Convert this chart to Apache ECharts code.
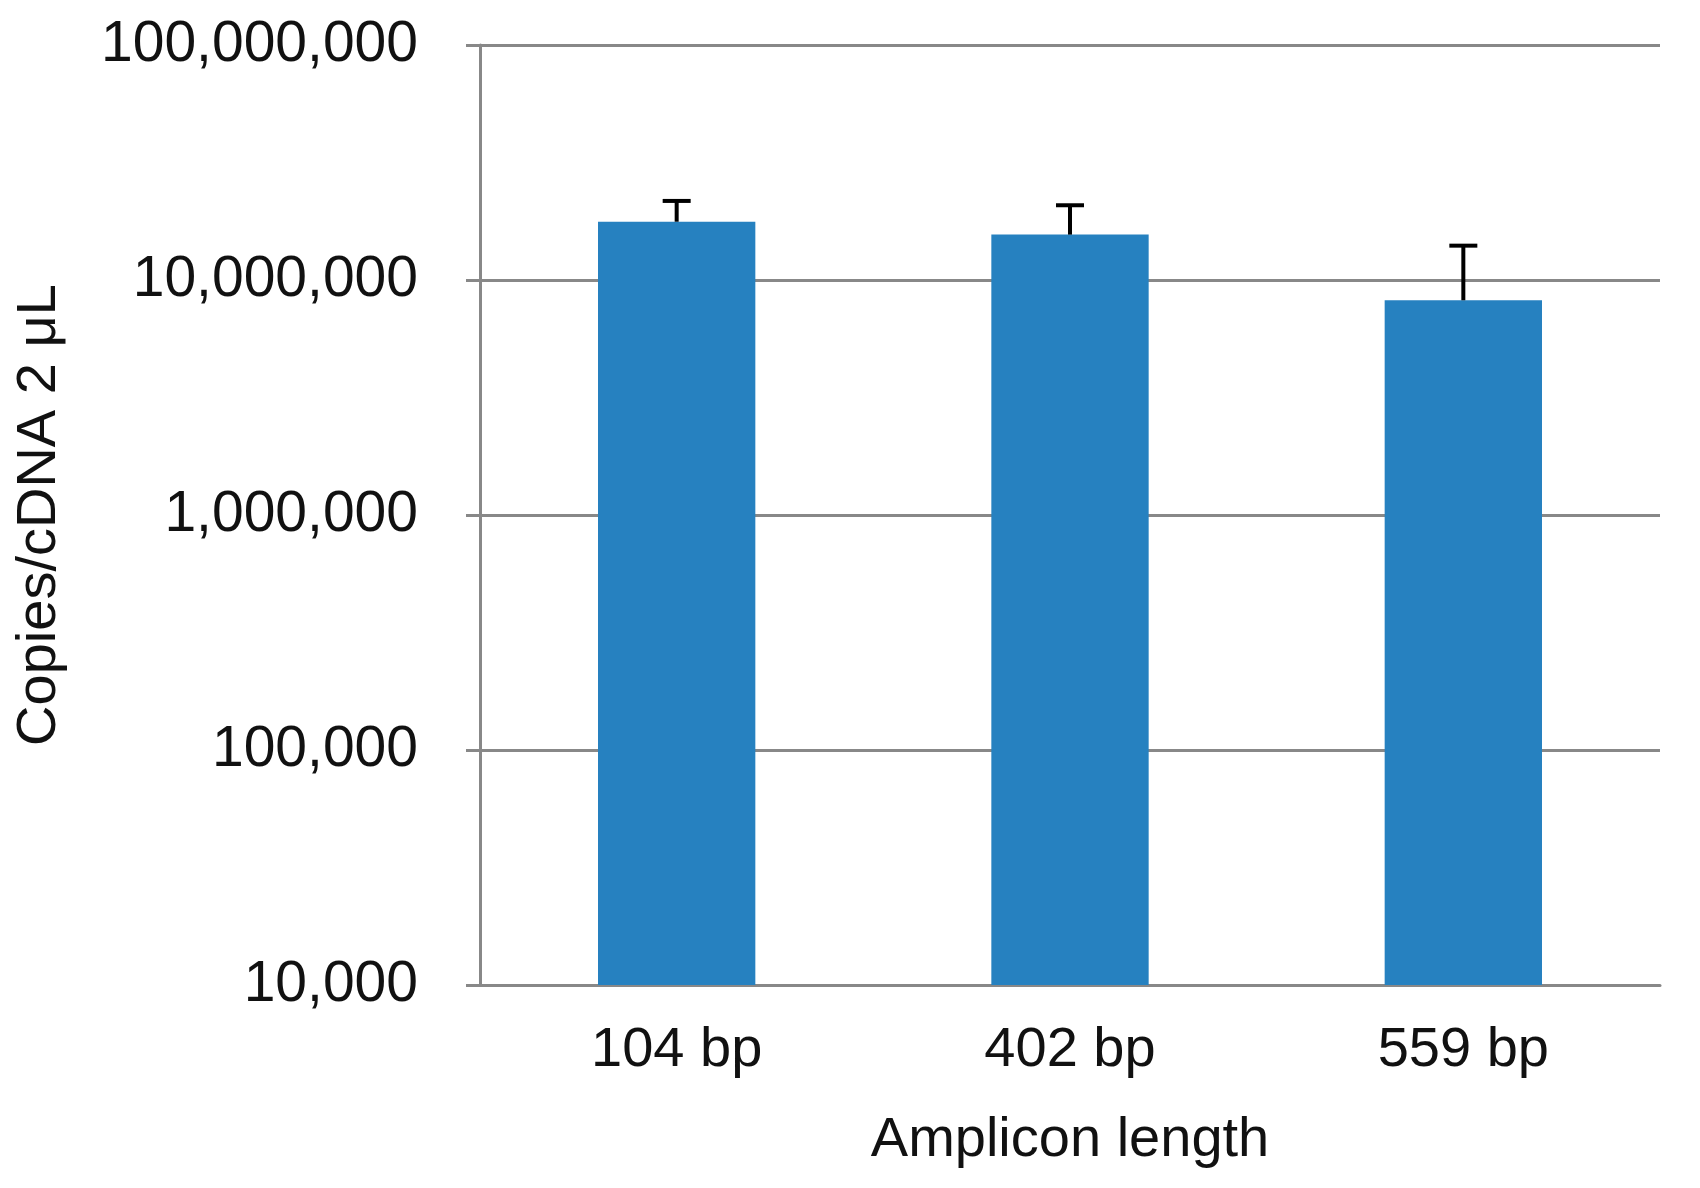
<!DOCTYPE html><html><head><meta charset="utf-8">
<script src="https://cdn.jsdelivr.net/npm/echarts@6/dist/echarts.min.js"></script>
<style>html,body{margin:0;background:#fff}#c{width:1700px;height:1188px}</style></head><body><div id="c"></div><script>
const categories=['104 bp','402 bp','559 bp'];
const values=[17700000,15600000,8200000];
const errUpper=[21700000,20800000,14000000];
const chart=echarts.init(document.getElementById('c'));
const F='Liberation Sans, Arial, sans-serif';
chart.setOption({
animation:false,
grid:{left:480,right:40,top:45,bottom:203},
xAxis:{type:'category',data:categories,axisLine:{lineStyle:{color:'#888',width:3}},axisTick:{show:false},
 axisLabel:{color:'#111',fontSize:56,fontFamily:F,margin:38},
 name:'Amplicon length',nameLocation:'middle',nameGap:128,nameTextStyle:{color:'#111',fontSize:56,fontFamily:F}},
yAxis:{type:'log',logBase:10,min:10000,max:100000000,
 axisLine:{show:true,lineStyle:{color:'#888',width:3}},axisTick:{show:true,length:14,lineStyle:{color:'#888',width:3}},
 splitLine:{lineStyle:{color:'#888',width:3}},
 axisLabel:{color:'#111',fontSize:57,fontFamily:F,margin:62,formatter:v=>Math.round(v).toLocaleString('en-US')},
 name:'Copies/cDNA 2 μL',nameLocation:'middle',nameGap:412,nameTextStyle:{color:'#111',fontSize:56,fontFamily:F}},
series:[{type:'bar',data:values,barWidth:'40%',itemStyle:{color:'#2681c0'},z:2},
{type:'custom',z:3,data:values.map((v,i)=>[i,v,errUpper[i]]),renderItem:(p,api)=>{
 const b=api.coord([api.value(0),api.value(1)]),t=api.coord([api.value(0),api.value(2)]);
 const s={stroke:'#000',lineWidth:4};
 return {type:'group',children:[
  {type:'line',shape:{x1:b[0],y1:b[1],x2:t[0],y2:t[1]},style:s},
  {type:'line',shape:{x1:t[0]-14,y1:t[1],x2:t[0]+14,y2:t[1]},style:s}]};}}]
});
</script></body></html>
